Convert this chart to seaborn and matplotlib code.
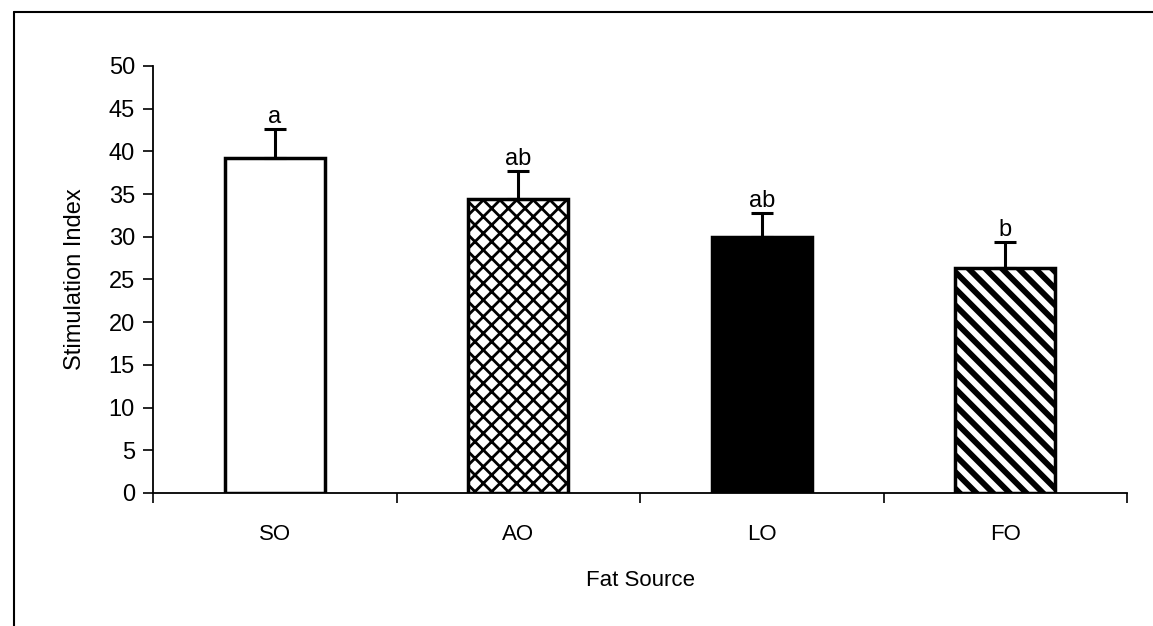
import matplotlib
matplotlib.use("Agg")
import matplotlib.pyplot as plt
import seaborn as sns
import pandas as pd
from matplotlib.lines import Line2D

categories = ["SO", "AO", "LO", "FO"]
values = [39.2, 34.4, 30.0, 26.4]
errors = [3.4, 3.3, 2.8, 3.0]
letters = ["a", "ab", "ab", "b"]
fills = ["white", "white", "black", "white"]
hatches = ["", "xx", "", "\\\\"]
hatch_widths = [1.0, 2.0, 1.0, 4.2]

sns.set_theme(style="white")
plt.rcParams["font.family"] = ["Liberation Sans", "DejaVu Sans"]
plt.rcParams["hatch.linewidth"] = 3.0
plt.rcParams["hatch.color"] = "black"

df = pd.DataFrame({"Fat Source": categories, "Stimulation Index": values})

fig = plt.figure(figsize=(11.53, 6.26), dpi=100)
ax = fig.add_axes([0.1327, 0.2125, 0.9775 - 0.1327, 0.8946 - 0.2125])

sns.barplot(data=df, x="Fat Source", y="Stimulation Index", hue="Fat Source",
            palette=fills, edgecolor="black", linewidth=2.5, width=0.41,
            legend=False, ax=ax, errorbar=None)

for p, h, hw in zip(ax.patches, hatches, hatch_widths):
    p.set_hatch(h)
    p.set_edgecolor("black")
    if hasattr(p, "set_hatch_linewidth"):
        p.set_hatch_linewidth(hw)

ax.errorbar(range(len(categories)), values,
            yerr=[[0] * len(errors), errors], fmt="none",
            ecolor="black", elinewidth=2.2, capsize=8, capthick=2.2, zorder=3)

for i, (v, e, t) in enumerate(zip(values, errors, letters)):
    ax.text(i, v + e + 0.1, t, ha="center", va="bottom", fontsize=17, color="black")

ax.set_ylim(0, 50)
ax.set_xlim(-0.5, 3.5)
ax.set_yticks(range(0, 51, 5))
ax.set_xticks(range(len(categories)))
ax.set_xticklabels(categories)
ax.set_xticks([-0.5, 0.5, 1.5, 2.5, 3.5], minor=True)
ax.tick_params(axis="x", which="major", length=0, pad=22, labelsize=16, colors="black")
ax.tick_params(axis="x", which="minor", length=7, width=1.2, direction="out", bottom=True, color="black")
ax.tick_params(axis="y", length=7, width=1.2, direction="out", left=True, labelsize=17,
               pad=6, colors="black")

for s in ["top", "right"]:
    ax.spines[s].set_visible(False)
for s in ["left", "bottom"]:
    ax.spines[s].set_color("black")
    ax.spines[s].set_linewidth(1.3)

ax.set_xlabel("Fat Source", fontsize=16, color="black", labelpad=18)
ax.set_ylabel("Stimulation Index", fontsize=17, color="black", labelpad=16)

# outer frame (left and top border)
fig.add_artist(Line2D([14 / 1153, 14 / 1153], [0, 1 - 12 / 626], transform=fig.transFigure,
                      color="black", linewidth=1.5))
fig.add_artist(Line2D([14 / 1153, 1], [1 - 12 / 626, 1 - 12 / 626], transform=fig.transFigure,
                      color="black", linewidth=1.5))

fig.savefig("out.png", dpi=100)
